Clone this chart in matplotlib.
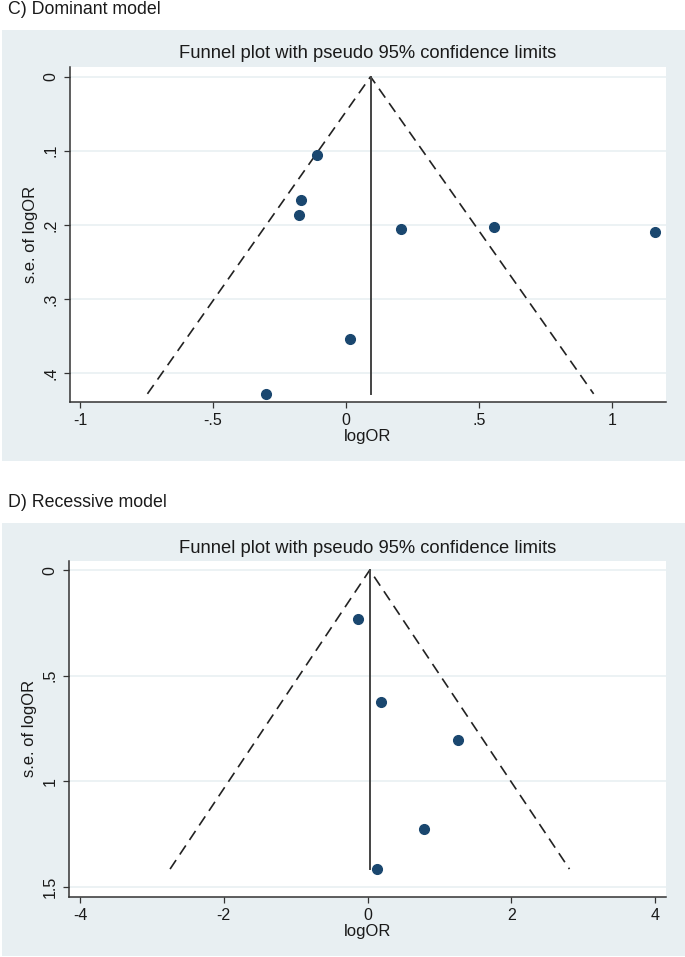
import numpy as np
import matplotlib
matplotlib.use('Agg')
import matplotlib.pyplot as plt
from matplotlib.patches import Rectangle

plt.rcParams['font.family'] = ['Liberation Sans', 'DejaVu Sans']

# ---- data ----
# C) Dominant model
dom_logor = [-0.108, -0.169, -0.177, 0.208, 0.555, 1.161, 0.015, -0.300]
dom_se = [0.105, 0.167, 0.187, 0.205, 0.203, 0.210, 0.354, 0.428]
dom_pooled = 0.092
dom_xticks = [-1, -0.5, 0, 0.5, 1]
dom_xlabels = ['-1', '-.5', '0', '.5', '1']
dom_yticks = [0, 0.1, 0.2, 0.3, 0.4]
dom_ylabels = ['0', '.1', '.2', '.3', '.4']

# D) Recessive model
rec_logor = [-0.132, 0.188, 1.259, 0.783, 0.127]
rec_se = [0.232, 0.626, 0.806, 1.227, 1.417]
rec_pooled = 0.03
rec_xticks = [-4, -2, 0, 2, 4]
rec_xlabels = ['-4', '-2', '0', '2', '4']
rec_yticks = [0, 0.5, 1, 1.5]
rec_ylabels = ['0', '.5', '1', '1.5']

W, H = 685, 957
BG = '#e8eff2'
NAVY = '#1a476f'


def fy(py):
    # pixel row -> figure fraction
    return 1 - py / H


def funnel_panel(fig, rect_px, bg_px, label, label_y, x, se, pooled,
                 xticks, xlabels, yticks, ylabels, xlim, ylim):
    # gray graph region, kept behind the axes
    fig.patches.append(Rectangle((bg_px[0] / W, fy(bg_px[3])),
                                 (bg_px[2] - bg_px[0]) / W, (bg_px[3] - bg_px[1]) / H,
                                 transform=fig.transFigure, facecolor=BG,
                                 edgecolor='none', zorder=-5))
    fig.text(8 / W, fy(label_y), label, fontsize=12.8, va='center', ha='left',
             color='#1a1a1a')

    l, t, r, b = rect_px
    ax = fig.add_axes([l / W, fy(b), (r - l) / W, (b - t) / H])
    ax.set_facecolor('white')

    maxse = max(se)
    ax.plot([pooled - 1.96 * maxse, pooled, pooled + 1.96 * maxse],
            [maxse, 0, maxse], color='#222222', lw=1.2, ls=(0, (6.5, 4)), zorder=3)
    ax.plot([pooled, pooled], [0, maxse], color='#444444', lw=1.4, zorder=3)
    ax.plot(x, se, 'o', color=NAVY, markersize=7, zorder=4)

    ax.set_xlim(*xlim)
    ax.set_ylim(*ylim)
    ax.set_xticks(xticks)
    ax.set_xticklabels(xlabels, fontsize=11.5, color='#1a1a1a')
    ax.set_yticks(yticks)
    ax.set_yticklabels(ylabels, fontsize=11.5, rotation=90, va='center', color='#1a1a1a')
    ax.yaxis.grid(True, color='#eaf1f3', lw=1.3)
    ax.set_axisbelow(True)
    for s in ['top', 'right']:
        ax.spines[s].set_visible(False)
    for s in ['left', 'bottom']:
        ax.spines[s].set_color('#333333')
        ax.spines[s].set_linewidth(1.1)
    ax.tick_params(direction='out', length=4, width=0.9, color='#333333', pad=4)
    ax.set_xlabel('logOR', fontsize=12, labelpad=1, color='#1a1a1a')
    ax.set_ylabel('s.e. of logOR', fontsize=12, labelpad=4, color='#1a1a1a')
    ax.set_title('Funnel plot with pseudo 95% confidence limits', fontsize=13.2,
                 pad=6, color='#1a1a1a')
    return ax


fig = plt.figure(figsize=(W / 100, H / 100), dpi=100)

funnel_panel(fig, (69.5, 66.7, 666, 402), (2, 30, 685, 461),
             'C) Dominant model', 10,
             dom_logor, dom_se, dom_pooled,
             dom_xticks, dom_xlabels, dom_yticks, dom_ylabels,
             (-1.040, 1.203), (0.439, -0.0135))

funnel_panel(fig, (68.7, 561, 666, 896.7), (2, 523, 685, 956),
             'D) Recessive model', 502,
             rec_logor, rec_se, rec_pooled,
             rec_xticks, rec_xlabels, rec_yticks, rec_ylabels,
             (-4.157, 4.150), (1.548, -0.043))

fig.savefig('out.png', dpi=100)
